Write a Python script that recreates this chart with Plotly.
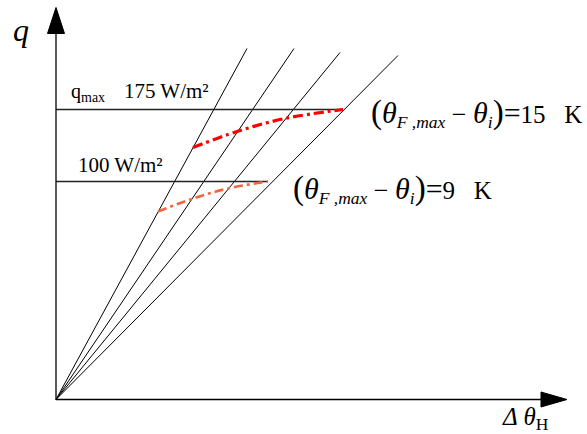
import plotly.graph_objects as go

# Schematic diagram: q over delta-theta_H (diagram units, origin at 0,0)
line_end_x = [191, 238, 284, 342]
line_end_y = [351, 351, 347, 344]

level_labels = ["175 W/m²", "100 W/m²"]
level_y = [290, 218]
level_end_x = [287, 212]

curve15_x = [137, 181, 229, 287]
curve15_y = [252, 268, 281, 290]
curve9_x = [102, 137, 172, 212]
curve9_y = [188, 201, 211, 218]

x_axis_end = 511
y_axis_end = 392

FONT = "Liberation Serif"
W, H = 587, 434
OX, OY = 56, 399.5  # origin in pixels

fig = go.Figure()

# rays from origin
for ex, ey in zip(line_end_x, line_end_y):
    fig.add_trace(go.Scatter(x=[0, ex], y=[0, ey], mode="lines",
                             line=dict(color="black", width=1), hoverinfo="skip"))

# horizontal level lines
for ly, lx in zip(level_y, level_end_x):
    fig.add_trace(go.Scatter(x=[0, lx], y=[ly, ly], mode="lines",
                             line=dict(color="#222", width=1.3), hoverinfo="skip"))

# dash-dot curves
fig.add_trace(go.Scatter(x=curve15_x, y=curve15_y, mode="lines",
                         line=dict(color="#ff0000", width=3.2, dash="10px,4px,3px,4px", shape="spline"),
                         hoverinfo="skip"))
fig.add_trace(go.Scatter(x=curve9_x, y=curve9_y, mode="lines",
                         line=dict(color="#f0663f", width=2.6, dash="9px,4px,3px,4px", shape="spline"),
                         hoverinfo="skip"))

# axes with arrowheads
fig.add_trace(go.Scatter(x=[0, x_axis_end - 24], y=[0, 0], mode="lines",
                         line=dict(color="black", width=1.3), hoverinfo="skip"))
fig.add_trace(go.Scatter(x=[0, 0], y=[0, y_axis_end - 24], mode="lines",
                         line=dict(color="black", width=1.3), hoverinfo="skip"))
fig.add_trace(go.Scatter(x=[x_axis_end - 26, x_axis_end, x_axis_end - 26, x_axis_end - 26],
                         y=[7.5, 0, -7.5, 7.5], mode="lines", fill="toself",
                         fillcolor="black", line=dict(color="black", width=1), hoverinfo="skip"))
fig.add_trace(go.Scatter(x=[-8.5, 0, 8.5, -8.5],
                         y=[y_axis_end - 26, y_axis_end, y_axis_end - 26, y_axis_end - 26],
                         mode="lines", fill="toself",
                         fillcolor="black", line=dict(color="black", width=1), hoverinfo="skip"))


def ann(x, y, text, size, anchor="left"):
    fig.add_annotation(x=x, y=y, text=text, showarrow=False, xanchor=anchor, yanchor="middle",
                       font=dict(family=FONT, size=size, color="black"))


ann(-45, 370, "<i>q</i>", 32)
ann(444, -19, "<i>Δ θ</i><sub>H</sub>", 25)
ann(13, 307, "q<sub>max</sub>", 20)
ann(66, 309, level_labels[0], 21)
ann(20, 235, level_labels[1], 21)


def big(s, px):
    return '<span style="font-size:%dpx">%s</span>' % (px, s)


formula = (big("(", 33) + big("<i>θ</i>", 30) + "<sub><i>F ,max</i></sub>"
           + big("\u00a0−\u00a0", 26) + big("<i>θ</i>", 30) + "<sub><i>i</i></sub>"
           + big(")", 33) + big("=", 30) + "%s\u00a0\u00a0\u00a0K")
ann(313, 287, formula % "15", 25)
ann(235, 211, formula % "9", 25)

fig.update_layout(
    width=W, height=H,
    margin=dict(l=0, r=0, t=0, b=0),
    plot_bgcolor="white", paper_bgcolor="white",
    showlegend=False,
    xaxis=dict(range=[-OX, W - OX], visible=False, fixedrange=True),
    yaxis=dict(range=[OY - H, OY], visible=False, fixedrange=True),
)

fig.write_html(
    "out.html",
    config={"displayModeBar": False},
    post_script="document.body.style.margin='0';document.body.style.overflow='hidden';",
)
